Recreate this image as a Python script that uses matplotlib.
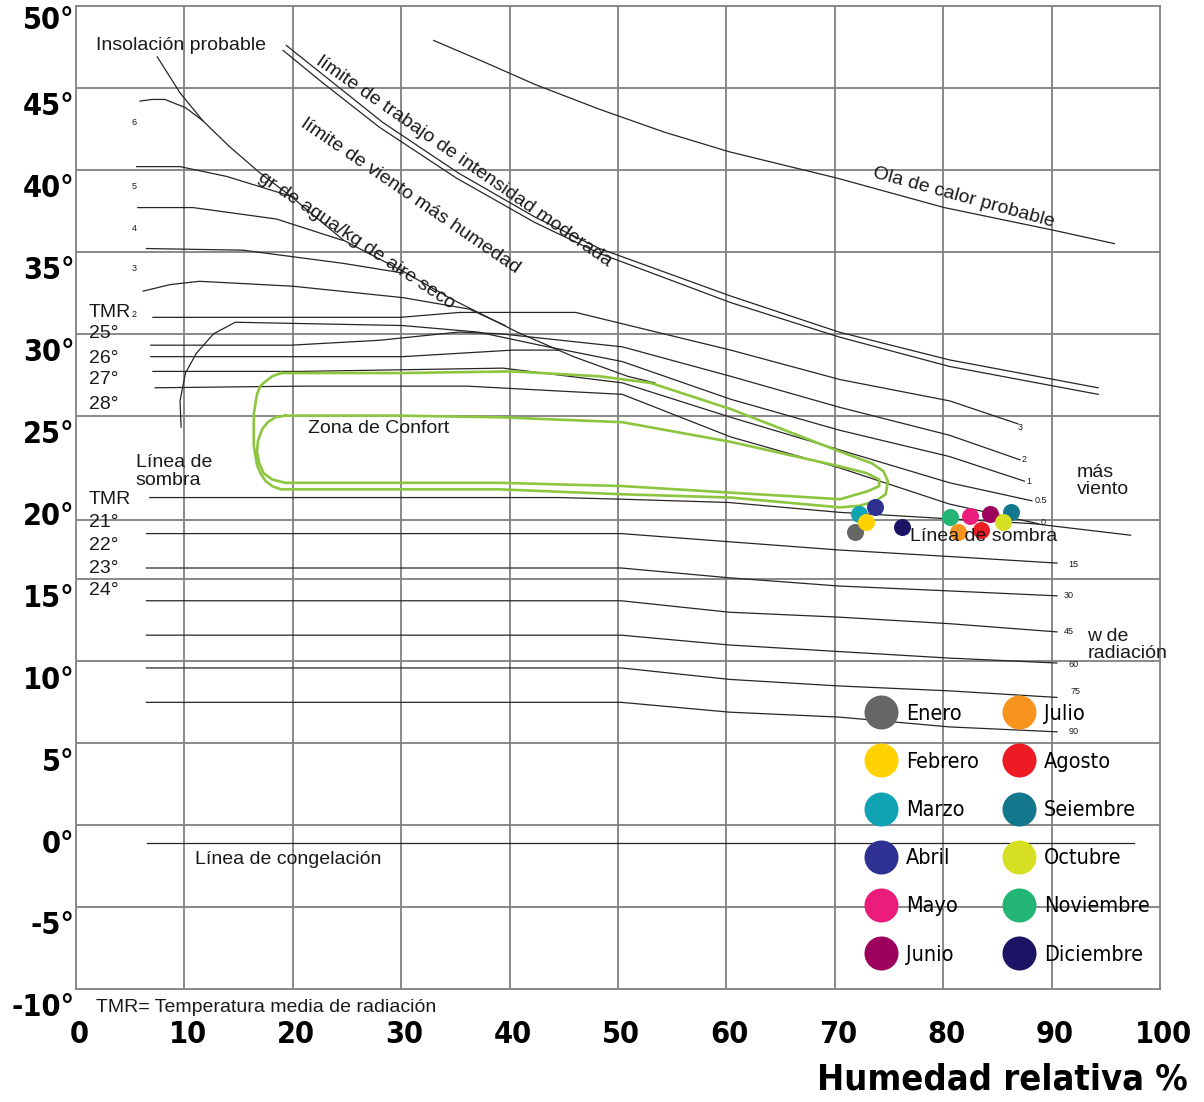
import matplotlib
matplotlib.use("Agg")
import matplotlib.pyplot as plt
from matplotlib import font_manager
from matplotlib.lines import Line2D

# ---- fonts ----
installed = {f.name for f in font_manager.fontManager.ttflist}
if "Liberation Sans Narrow" in installed:
    NARROW = dict(family="Liberation Sans Narrow")
else:
    NARROW = dict(family="DejaVu Sans", stretch="condensed")
TXT = ["Liberation Sans", "DejaVu Sans"]

# ---- data (relative humidity %, temperature °C) ----
months = ["Enero", "Febrero", "Marzo", "Abril", "Mayo", "Junio",
          "Julio", "Agosto", "Seiembre", "Octubre", "Noviembre", "Diciembre"]
month_colors = ["#666666", "#ffd200", "#10a3b4", "#2e3192", "#ec1c7a", "#9e005d",
                "#f7941d", "#ed1c24", "#13788e", "#d7df23", "#22b573", "#1b1464"]
month_rh = [71.9, 72.9, 72.2, 73.7, 82.5, 84.3, 81.4, 83.5, 86.3, 85.5, 80.6, 76.2]
month_t = [17.9, 18.5, 19.0, 19.4, 18.9, 19.0, 17.9, 18.0, 19.1, 18.5, 18.8, 18.2]
draw_order = [0, 2, 1, 3, 11, 10, 6, 4, 7, 5, 8, 9]

# upper-left moisture curves (gr de agua/kg)
c6_rh = [5.9, 7.0, 8.2, 10.1, 11.7]
c6_t = [44.2, 44.3, 44.3, 43.8, 43.0]
c5_rh = [5.6, 9.6, 13.9, 19.8]
c5_t = [40.2, 40.2, 39.6, 38.4]
c4_rh = [5.7, 10.8, 18.5, 24.6]
c4_t = [37.7, 37.7, 37.0, 35.7]
c3_rh = [6.5, 15.4, 24.6, 30.2]
c3_t = [35.2, 35.1, 34.3, 33.7]
c2_rh = [6.2, 8.7, 11.4, 20.0, 30.2, 36.3, 39.6]
c2_t = [32.6, 33.0, 33.2, 32.9, 32.2, 31.5, 30.5]

insol_rh = [7.5, 9.6, 11.7, 14.2, 17.0, 19.8, 24.7, 30.2, 34.7, 40.7, 45.9, 50.9, 53.4]
insol_t = [46.9, 44.7, 43.0, 41.4, 39.8, 38.4, 35.7, 33.8, 32.1, 30.1, 28.6, 27.4, 27.0]

# limite de trabajo de intensidad moderada (double line)
lim1_rh = [19.4, 23.0, 28.3, 35.3, 42.4, 48.3, 60.4, 70.4, 80.6, 94.3]
lim1_t = [47.6, 45.7, 42.9, 39.8, 37.1, 35.2, 32.3, 30.1, 28.4, 26.7]
lim2_rh = [19.1, 22.6, 28.0, 35.1, 42.3, 48.3, 60.4, 70.4, 80.6, 94.3]
lim2_t = [47.3, 45.4, 42.6, 39.5, 36.8, 34.9, 31.9, 29.8, 28.0, 26.3]

ola_rh = [33.0, 37.6, 42.4, 48.3, 54.3, 60.3, 70.2, 80.1, 90.3, 95.8]
ola_t = [47.9, 46.6, 45.2, 43.7, 42.3, 41.1, 39.5, 37.7, 36.3, 35.5]

# TMR 25-28 lines turning into wind lines (3, 2, 1, 0.5, 0 m/s)
w3_rh = [7.1, 29.9, 35.4, 46.1, 60.4, 70.5, 80.6, 86.9]
w3_t = [31.0, 31.0, 31.3, 31.3, 29.0, 27.2, 25.9, 24.5]
w2_rh = [6.9, 19.8, 28.0, 35.3, 39.1, 50.4, 60.4, 70.5, 80.6, 87.1]
w2_t = [29.3, 29.3, 29.6, 30.1, 30.0, 29.2, 27.4, 25.5, 23.8, 22.3]
w1_rh = [9.7, 9.6, 10.1, 11.1, 12.7, 14.7, 30.1, 37.1, 42.8, 50.4, 60.4, 70.5, 80.6, 87.5]
w1_t = [24.3, 25.9, 27.6, 28.8, 30.0, 30.7, 30.5, 30.1, 29.3, 28.3, 26.0, 24.1, 22.5, 21.0]
l26_rh = [6.9, 30.1, 40.3, 44.6]
l26_t = [28.6, 28.6, 29.0, 29.0]
w05_rh = [7.1, 20.7, 39.4, 50.4, 60.4, 70.5, 80.6, 88.2]
w05_t = [27.7, 27.7, 27.9, 27.0, 24.9, 22.9, 20.9, 19.8]
w0_rh = [7.3, 20.7, 36.1, 44.6, 50.4, 60.4, 70.5, 80.6, 88.8]
w0_t = [26.7, 26.8, 26.8, 26.5, 26.3, 23.7, 21.8, 19.6, 18.4]

# TMR 21 / linea de sombra
sombra_rh = [6.8, 44.6, 50.3, 60.2, 70.4, 80.6, 88.4, 97.3]
sombra_t = [20.0, 20.0, 19.9, 19.7, 19.1, 18.7, 18.4, 17.7]

# radiation lines 15..90 W
rad_rh = [6.5, 50.3, 60.3, 70.4, 80.6, 90.5]
rad_t = [
    [17.8, 17.8, 17.3, 16.8, 16.4, 16.0],
    [15.7, 15.7, 15.1, 14.6, 14.3, 14.0],
    [13.7, 13.7, 13.0, 12.7, 12.3, 11.8],
    [11.6, 11.6, 11.0, 10.6, 10.2, 9.9],
    [9.6, 9.6, 8.9, 8.5, 8.2, 7.8],
    [7.5, 7.5, 6.9, 6.6, 6.0, 5.7],
]
rad_labels = ["15", "30", "45", "60", "75", "90"]

congel_rh = [6.55, 97.6]
congel_t = [-1.1, -1.1]

# comfort zone (outer and inner outline)
outer_rh = [18.9, 29.9, 40.3, 48.3, 53.0, 60.4, 70.5, 73.4, 74.5, 74.9, 74.7, 73.8, 72.3, 70.5,
            60.4, 50.4, 39.1, 18.9, 18.1, 17.5, 17.0, 16.7, 16.4, 16.4, 16.7, 17.0, 17.5, 18.1,
            18.9]
outer_t = [27.6, 27.6, 27.7, 27.4, 27.0, 25.4, 22.8, 22.1, 21.6, 21.0, 20.2, 19.8, 19.5, 19.4,
           20.0, 20.2, 20.5, 20.5, 20.7, 21.0, 21.5, 22.0, 23.2, 25.1, 26.3, 26.8, 27.1, 27.4,
           27.6]
inner_rh = [19.3, 29.9, 39.1, 50.4, 60.4, 70.5, 72.9, 74.1, 74.1, 73.1, 70.5, 60.4, 50.4, 39.1,
            19.3, 18.1, 17.3, 16.9, 16.7, 16.8, 17.2, 17.7, 18.4, 19.3]
inner_t = [25.0, 25.0, 24.9, 24.6, 23.4, 21.9, 21.5, 21.1, 20.7, 20.4, 19.9, 20.3, 20.7, 20.9,
           20.9, 21.1, 21.5, 22.1, 22.8, 23.5, 24.2, 24.6, 24.9, 25.0]

x_ticks = [0, 10, 20, 30, 40, 50, 60, 70, 80, 90, 100]
y_grid = [45, 40, 35, 30, 25, 18.66, 15, 10, 5, 0, -5]
y_tick_text = ["50°", "45°", "40°", "35°", "30°", "25°", "20°", "15°", "10°", "5°", "0°", "-5°", "-10°"]
y_tick_pos = [49.1, 43.85, 38.85, 33.85, 28.85, 23.85, 18.84, 13.85, 8.85, 3.85, -1.15, -6.15, -11.1]

# ---- figure ----
fig = plt.figure(figsize=(12.04, 11.02), dpi=100)
ax = fig.add_axes([0.0631, 0.1025, 0.9003, 0.892])
ax.set_xlim(0, 100)
ax.set_ylim(-10, 50)
ax.set_xticks([])
ax.set_yticks([])
for s in ax.spines.values():
    s.set_color("#808080")
    s.set_linewidth(1.3)

GRID = dict(color="#808080", lw=1.3, zorder=1)
for x in x_ticks[1:-1]:
    ax.axvline(x, **GRID)
for y in y_grid:
    ax.axhline(y, **GRID)

LINE = dict(color="#262626", lw=0.9, zorder=2)
for xs, ys in [(c6_rh, c6_t), (c5_rh, c5_t), (c4_rh, c4_t), (c3_rh, c3_t), (c2_rh, c2_t),
               (insol_rh, insol_t), (lim1_rh, lim1_t), (lim2_rh, lim2_t), (ola_rh, ola_t),
               (w3_rh, w3_t), (w2_rh, w2_t), (w1_rh, w1_t), (l26_rh, l26_t),
               (w05_rh, w05_t), (w0_rh, w0_t), (sombra_rh, sombra_t), (congel_rh, congel_t)]:
    ax.plot(xs, ys, **LINE)
for ts in rad_t:
    ax.plot(rad_rh, ts, **LINE)

ax.plot(outer_rh, outer_t, color="#8cc63f", lw=1.9, zorder=3, solid_joinstyle="round")
ax.plot(inner_rh, inner_t, color="#8cc63f", lw=1.9, zorder=3, solid_joinstyle="round")

for i in draw_order:
    ax.scatter(month_rh[i], month_t[i], s=150, color=month_colors[i], lw=0, zorder=4)

# ---- axis labels ----
for x in x_ticks:
    ax.text(x + 0.3, -12.75, str(x), ha="center", va="center", fontsize=22,
            fontweight="bold", clip_on=False, **NARROW)
for lab, y in zip(y_tick_text, y_tick_pos):
    ax.text(-0.15, y, lab, ha="right", va="center", fontsize=22,
            fontweight="bold", clip_on=False, **NARROW)
ax.text(102.6, -15.5, "Humedad relativa %", ha="right", va="center", fontsize=26,
        fontweight="bold", clip_on=False, **NARROW)

# ---- annotations ----
T14 = dict(fontsize=14, family=TXT, color="#1a1a1a", zorder=6)
ax.text(1.85, 47.6, "Insolación probable", ha="left", va="center", **T14)
ax.text(35.8, 40.5, "límite de trabajo de intensidad moderada", rotation=-34.8,
        rotation_mode="anchor", ha="center", va="center", **T14)
ax.text(30.8, 38.4, "límite de viento más humedad", rotation=-34.4,
        rotation_mode="anchor", ha="center", va="center", **T14)
ax.text(25.9, 35.7, "gr de agua/kg de aire seco", rotation=-33.8,
        rotation_mode="anchor", ha="center", va="center", **T14)
ax.text(81.9, 38.3, "Ola de calor probable", rotation=-15.4,
        rotation_mode="anchor", ha="center", va="center", **T14)
ax.text(21.4, 24.2, "Zona de Confort", ha="left", va="center", **T14)
ax.text(5.5, 21.6, "Línea de\nsombra", ha="left", va="center", linespacing=1.05, **T14)
ax.text(76.9, 17.6, "Línea de sombra", ha="left", va="center", **T14)
ax.text(92.3, 21.0, "más\nviento", ha="left", va="center", linespacing=1.05, **T14)
ax.text(93.3, 11.0, "w de\nradiación", ha="left", va="center", linespacing=1.05, **T14)
ax.text(11.0, -2.1, "Línea de congelación", ha="left", va="center", **T14)
ax.text(1.85, -11.1, "TMR= Temperatura media de radiación", ha="left", va="center",
        clip_on=False, **T14)

ax.text(1.2, 31.3, "TMR", ha="left", va="center", **T14)
for lab, y in zip(["25°", "26°", "27°", "28°"], [30.0, 28.5, 27.2, 25.7]):
    ax.text(1.2, y, lab, ha="left", va="center", **T14)
ax.text(1.2, 19.9, "TMR", ha="left", va="center", **T14)
for lab, y in zip(["21°", "22°", "23°", "24°"], [18.5, 17.1, 15.7, 14.3]):
    ax.text(1.2, y, lab, ha="left", va="center", **T14)

SMALL = dict(fontsize=6.5, family=TXT, color="#1a1a1a", ha="center", va="center", zorder=6)
for lab, y in zip(["6", "5", "4", "3", "2"], [42.9, 39.0, 36.4, 34.0, 31.2]):
    ax.text(5.35, y, lab, **SMALL)
for lab, x, y in zip(["3", "2", "1", "0.5", "0"], [87.1, 87.5, 87.9, 89.0, 89.2],
                     [24.3, 22.3, 21.0, 19.8, 18.5]):
    ax.text(x, y, lab, **SMALL)
for lab, x, y in zip(rad_labels, [92.0, 91.6, 91.6, 92.0, 92.2, 92.0],
                     [15.9, 14.0, 11.8, 9.8, 8.15, 5.7]):
    ax.text(x, y, lab, **SMALL)

# ---- legend ----
handles = [Line2D([0], [0], marker="o", ls="", markersize=24.5, markeredgewidth=0,
                  markerfacecolor=c) for c in month_colors]
leg = ax.legend(handles, months, ncol=2, loc="upper left", bbox_to_anchor=(72.7, 7.42),
                bbox_transform=ax.transData, frameon=False, handlelength=1.58,
                handletextpad=0.37, columnspacing=1.08, labelspacing=1.31, borderpad=0,
                borderaxespad=0, prop=dict(size=15.5, **NARROW))
leg.set_zorder(7)

fig.savefig("out.png", dpi=100)
